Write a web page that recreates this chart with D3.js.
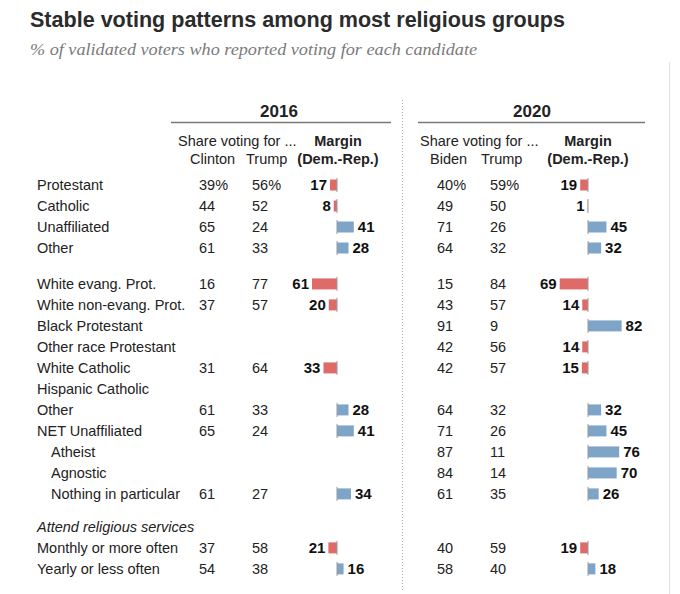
<!DOCTYPE html>
<html>
<head>
<meta charset="utf-8">
<script src="https://cdn.jsdelivr.net/npm/d3@7"></script>
<style>
  body { margin: 0; background: #fff; }
  text { font-family: "Liberation Sans", Arial, sans-serif; }
</style>
</head>
<body>
<div id="chart"></div>
<script>
var width = 680,
	height = 594;

// row labels, top to bottom
var groups = ["Protestant", "Catholic", "Unaffiliated", "Other",
	"White evang. Prot.", "White non-evang. Prot.", "Black Protestant", "Other race Protestant",
	"White Catholic", "Hispanic Catholic", "Other", "NET Unaffiliated", "Atheist", "Agnostic",
	"Nothing in particular", "Attend religious services", "Monthly or more often", "Yearly or less often"];
var indented = ["Atheist", "Agnostic", "Nothing in particular"];
var sectionHead = ["Attend religious services"];

// 2016
var clinton16 = [39, 44, 65, 61, 16, 37, null, null, 31, null, 61, 65, null, null, 61, null, 37, 54];
var trump16   = [56, 52, 24, 33, 77, 57, null, null, 64, null, 33, 24, null, null, 27, null, 58, 38];
var margin16  = [-17, -8, 41, 28, -61, -20, null, null, -33, null, 28, 41, null, null, 34, null, -21, 16];

// 2020
var biden20   = [40, 49, 71, 64, 15, 43, 91, 42, 42, null, 64, 71, 87, 84, 61, null, 40, 58];
var trump20   = [59, 50, 26, 32, 84, 57, 9, 56, 57, null, 32, 26, 11, 14, 35, null, 59, 40];
var margin20  = [-19, -1, 45, 32, -69, -14, 82, -14, -15, null, 32, 45, 76, 70, 26, null, -19, 18];

var red = "#de6b68", blue = "#7ea5c7";

var svg = d3.select("#chart").append("svg")
	.attr("width", width)
	.attr("height", height);

// slot index with gaps between blocks
function slot(i) { return i + (i >= 4 ? 0.71 : 0) + (i >= 15 ? 0.57 : 0); }
var yScale = d3.scaleLinear().domain([0, 1]).range([185, 206]);

// bar scales, one per year
var x16 = d3.scaleLinear().domain([-100, 100]).range([337 - 41, 337 + 41]);
var x20 = d3.scaleLinear().domain([-100, 100]).range([588 - 41, 588 + 41]);

// title
svg.append("text")
	.attr("x", 30).attr("y", 27)
	.style("font-family", "'Liberation Sans Narrow', 'Liberation Sans', Arial, sans-serif")
	.style("font-weight", "bold")
	.style("font-size", "22px")
	.attr("fill", "#2b2b2b")
	.attr("textLength", 535)
	.attr("lengthAdjust", "spacingAndGlyphs")
	.text("Stable voting patterns among most religious groups");

svg.append("text")
	.attr("x", 30).attr("y", 55)
	.style("font-family", "'Liberation Serif', Georgia, serif")
	.style("font-style", "italic")
	.style("font-size", "16px")
	.attr("fill", "#7a7a7a")
	.attr("textLength", 447)
	.attr("lengthAdjust", "spacingAndGlyphs")
	.text("% of validated voters who reported voting for each candidate");

// separators
svg.append("line")
	.attr("x1", 402.5).attr("x2", 402.5).attr("y1", 100).attr("y2", 592)
	.attr("stroke", "#b5b5b5").attr("stroke-dasharray", "1,2");
svg.append("line")
	.attr("x1", 669.5).attr("x2", 669.5).attr("y1", 62).attr("y2", 594)
	.attr("stroke", "#e2e2e2");

// column headers
var panels = [
	{ year: "2016", cx: 279, x0: 171, x1: 391, cand: "Clinton", candX: 190, trumpX: 246, marginX: 338, share: 178, dem: x16,
	  a: clinton16, b: trump16, m: margin16, colA: 199, colB: 252 },
	{ year: "2020", cx: 532, x0: 418, x1: 645, cand: "Biden", candX: 430, trumpX: 481, marginX: 588, share: 420, dem: x20,
	  a: biden20, b: trump20, m: margin20, colA: 437, colB: 490 }
];

panels.forEach(function(p) {
	var g = svg.append("g");
	g.append("text")
		.attr("x", p.cx).attr("y", 117)
		.attr("text-anchor", "middle")
		.style("font-weight", "bold").style("font-size", "17px")
		.attr("fill", "#222")
		.text(p.year);
	g.append("line")
		.attr("x1", p.x0).attr("x2", p.x1).attr("y1", 122.5).attr("y2", 122.5)
		.attr("stroke", "#777").attr("stroke-width", 1.5);
	g.append("text")
		.attr("x", p.share).attr("y", 146)
		.style("font-size", "14.5px").attr("fill", "#222")
		.text("Share voting for ...");
	g.append("text")
		.attr("x", p.marginX).attr("y", 146)
		.attr("text-anchor", "middle")
		.style("font-size", "14.5px").style("font-weight", "bold").attr("fill", "#222")
		.text("Margin");
	g.append("text")
		.attr("x", p.candX).attr("y", 164)
		.style("font-size", "14.5px").attr("fill", "#222")
		.text(p.cand);
	g.append("text")
		.attr("x", p.trumpX).attr("y", 164)
		.style("font-size", "14.5px").attr("fill", "#222")
		.text("Trump");
	g.append("text")
		.attr("x", p.marginX).attr("y", 164)
		.attr("text-anchor", "middle")
		.style("font-size", "14.5px").style("font-weight", "bold").attr("fill", "#222")
		.text("(Dem.-Rep.)");
});

// row labels
svg.selectAll(".label")
	.data(groups)
	.enter()
	.append("text")
	.attr("class", "label")
	.attr("x", function(d) { return indented.indexOf(d) >= 0 ? 51 : 37; })
	.attr("y", function(d, i) { return yScale(slot(i)); })
	.attr("dy", "0.35em")
	.style("font-size", "14.5px")
	.style("font-style", function(d) { return sectionHead.indexOf(d) >= 0 ? "italic" : "normal"; })
	.attr("fill", "#222")
	.text(function(d) { return d; });

// values and bars
panels.forEach(function(p) {
	var g = svg.append("g");
	var rows = groups.map(function(d, i) { return { i: i, a: p.a[i], b: p.b[i], m: p.m[i] }; })
		.filter(function(d) { return d.m !== null; });

	g.selectAll(".va").data(rows).enter().append("text")
		.attr("x", p.colA)
		.attr("y", function(d) { return yScale(slot(d.i)); })
		.attr("dy", "0.35em")
		.style("font-size", "14.5px").attr("fill", "#222")
		.text(function(d) { return d.a + (d.i === 0 ? "%" : ""); });

	g.selectAll(".vb").data(rows).enter().append("text")
		.attr("x", p.colB)
		.attr("y", function(d) { return yScale(slot(d.i)); })
		.attr("dy", "0.35em")
		.style("font-size", "14.5px").attr("fill", "#222")
		.text(function(d) { return d.b + (d.i === 0 ? "%" : ""); });

	g.selectAll(".bar").data(rows).enter().append("rect")
		.attr("x", function(d) { return Math.min(p.dem(0), p.dem(d.m)); })
		.attr("y", function(d) { return yScale(slot(d.i)) - 5.5; })
		.attr("width", function(d) { return Math.abs(p.dem(d.m) - p.dem(0)); })
		.attr("height", 11)
		.attr("fill", function(d) { return d.m < 0 ? red : blue; });

	g.selectAll(".base").data(rows).enter().append("line")
		.attr("x1", p.dem(0)).attr("x2", p.dem(0))
		.attr("y1", function(d) { return yScale(slot(d.i)) - 7; })
		.attr("y2", function(d) { return yScale(slot(d.i)) + 7; })
		.attr("stroke", "#9a9a9a").attr("stroke-width", 1);

	g.selectAll(".mlab").data(rows).enter().append("text")
		.attr("x", function(d) { return d.m < 0 ? p.dem(d.m) - 3 : p.dem(d.m) + 4; })
		.attr("y", function(d) { return yScale(slot(d.i)); })
		.attr("dy", "0.35em")
		.attr("text-anchor", function(d) { return d.m < 0 ? "end" : "start"; })
		.style("font-size", "15px").style("font-weight", "bold").attr("fill", "#111")
		.text(function(d) { return Math.abs(d.m); });
});
</script>
</body>
</html>
